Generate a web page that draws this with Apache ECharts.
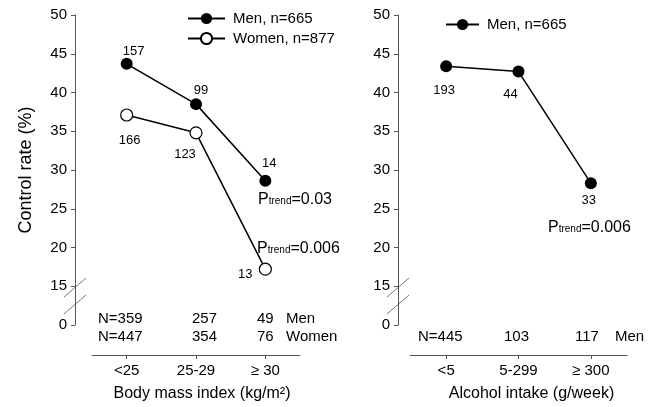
<!DOCTYPE html>
<html><head><meta charset="utf-8">
<script src="https://cdn.jsdelivr.net/npm/echarts@6/dist/echarts.min.js"></script>
<style>html,body{margin:0;padding:0;background:#fff}#c{width:654px;height:407px}</style>
</head><body><div id="c"></div>
<script>
// ---- data ----
const bmiCategories = ['<25', '25-29', '≥ 30'];
const alcCategories = ['<5', '5-299', '≥ 300'];
const menBmiRate = [43.7, 38.5, 28.6];
const womenBmiRate = [37.1, 34.8, 17.2];
const menAlcRate = [43.4, 42.7, 28.3];
const menBmiCases = [157, 99, 14];
const womenBmiCases = [166, 123, 13];
const menAlcCases = [193, 44, 33];
const menBmiN = [359, 257, 49];
const womenBmiN = [447, 354, 76];
const menAlcN = [445, 103, 117];
const seriesNames = ['Men, n=665', 'Women, n=877'];
const pTrendBmiMen = '0.03';
const pTrendBmiWomen = '0.006';
const pTrendAlcMen = '0.006';
const yMin = 10, yMax = 50, yStep = 5; // value 10 is shown as "0" (axis break)

const FONT = '"Liberation Sans", Arial, Helvetica, sans-serif';
const AXIS_COLOR = '#555';

function yAxisCfg(gridIndex, offset, withName) {
  return {
    type: 'value', gridIndex, min: yMin, max: yMax, interval: yStep, offset,
    axisLine: {show: true, lineStyle: {color: AXIS_COLOR, width: 1}},
    axisTick: {show: true, length: 4, lineStyle: {color: AXIS_COLOR}},
    splitLine: {show: false},
    axisLabel: {color: '#000', fontSize: 15, fontFamily: FONT, margin: 8,
      formatter: v => (v === yMin ? '0' : String(v))},
    name: withName ? 'Control rate (%)' : '',
    nameLocation: 'middle', nameRotate: 90, nameGap: 40,
    nameTextStyle: {color: '#000', fontSize: 18, fontFamily: FONT}
  };
}
function xAxisCfg(gridIndex, cats, name, shift) {
  return {
    type: 'category', gridIndex, data: cats, offset: 30,
    axisLine: {show: true, lineStyle: {color: AXIS_COLOR, width: 1}},
    axisTick: {show: true, alignWithLabel: true, length: 4, lineStyle: {color: AXIS_COLOR}},
    axisLabel: {color: '#000', fontSize: 15, fontFamily: FONT, margin: 8},
    splitLine: {show: false},
    name, nameLocation: 'middle', nameGap: 31,
    nameTextStyle: {color: '#000', fontSize: 16, fontFamily: FONT, padding: [0, 0, 0, shift]}
  };
}
function lineSeries(name, idx, data, cases, hollow, offsets) {
  return {
    type: 'line', name, xAxisIndex: idx, yAxisIndex: idx, data,
    symbol: 'circle', symbolSize: 12, animation: false,
    lineStyle: {color: '#000', width: 1.5},
    itemStyle: hollow ? {color: '#fff', borderColor: '#000', borderWidth: 1.2} : {color: '#000'},
    label: {show: true, position: 'inside', color: '#000', fontSize: 13, fontFamily: FONT,
      textBorderWidth: 0, formatter: p => String(cases[p.dataIndex])},
    labelLayout: p => ({dx: offsets[p.dataIndex][0], dy: offsets[p.dataIndex][1]}),
    emphasis: {disabled: true}
  };
}
function txt(x, y, text, size) {
  return {type: 'text', x, y, silent: true,
    style: {text: String(text), fill: '#000', fontSize: size || 15, fontFamily: FONT, verticalAlign: 'middle'}};
}
function ptrend(x, y, val) {
  return {type: 'text', x, y, silent: true,
    style: {text: '{a|P}{b|trend}{a|=' + val + '}', verticalAlign: 'middle',
      rich: {a: {fontSize: 16, fontFamily: FONT, fill: '#000', verticalAlign: 'middle'},
             b: {fontSize: 10, fontFamily: FONT, fill: '#000', verticalAlign: 'middle', padding: [3, 0, 0, 0]}}}};
}
function slashes(ax) {
  const s = {stroke: '#777', lineWidth: 1};
  return [
    {type: 'line', silent: true, shape: {x1: ax - 11, y1: 297, x2: ax + 11, y2: 278}, style: s},
    {type: 'line', silent: true, shape: {x1: ax - 11, y1: 314, x2: ax + 11, y2: 295}, style: s}
  ];
}

const graphics = [
  ...slashes(75), ...slashes(398),
  ptrend(258, 200, pTrendBmiMen), ptrend(257, 249, pTrendBmiWomen), ptrend(548, 228, pTrendAlcMen)
];
const leftCols = [98, 192, 257], rightCols = [418, 504, 575];
menBmiN.forEach((n, i) => graphics.push(txt(leftCols[i], 319, (i === 0 ? 'N=' : '') + n)));
womenBmiN.forEach((n, i) => graphics.push(txt(leftCols[i], 337, (i === 0 ? 'N=' : '') + n)));
graphics.push(txt(286, 319, 'Men'), txt(286, 337, 'Women'));
menAlcN.forEach((n, i) => graphics.push(txt(rightCols[i], 337, (i === 0 ? 'N=' : '') + n)));
graphics.push(txt(615, 337, 'Men'));

const chart = echarts.init(document.getElementById('c'));
chart.setOption({
  animation: false,
  backgroundColor: '#fff',
  grid: [
    {left: 92, top: 15, width: 208, height: 312},
    {left: 410, top: 15, width: 217, height: 312}
  ],
  xAxis: [xAxisCfg(0, bmiCategories, 'Body mass index (kg/m²)', 12),
          xAxisCfg(1, alcCategories, 'Alcohol intake (g/week)', 26)],
  yAxis: [yAxisCfg(0, 17, true), yAxisCfg(1, 12, false)],
  legend: [
    {data: seriesNames, orient: 'vertical', left: 182, top: 6, itemWidth: 37, itemHeight: 14, itemGap: 5,
      textStyle: {color: '#000', fontSize: 15, fontFamily: FONT, padding: [0, 0, 0, 3]}, selectedMode: false},
    {data: [seriesNames[0]], orient: 'vertical', left: 440, top: 12, itemWidth: 33, itemHeight: 14,
      textStyle: {color: '#000', fontSize: 15, fontFamily: FONT, padding: [0, 0, 0, 3]}, selectedMode: false}
  ],
  series: [
    lineSeries(seriesNames[0], 0, menBmiRate, menBmiCases, false, [[7, -12], [5, -14], [4, -17]]),
    lineSeries(seriesNames[1], 0, womenBmiRate, womenBmiCases, true, [[3, 25], [-11, 22], [-20, 5]]),
    lineSeries(seriesNames[0], 1, menAlcRate, menAlcCases, false, [[-2, 24], [-8, 23], [-2, 17]])
  ],
  graphic: graphics
});
</script></body></html>
